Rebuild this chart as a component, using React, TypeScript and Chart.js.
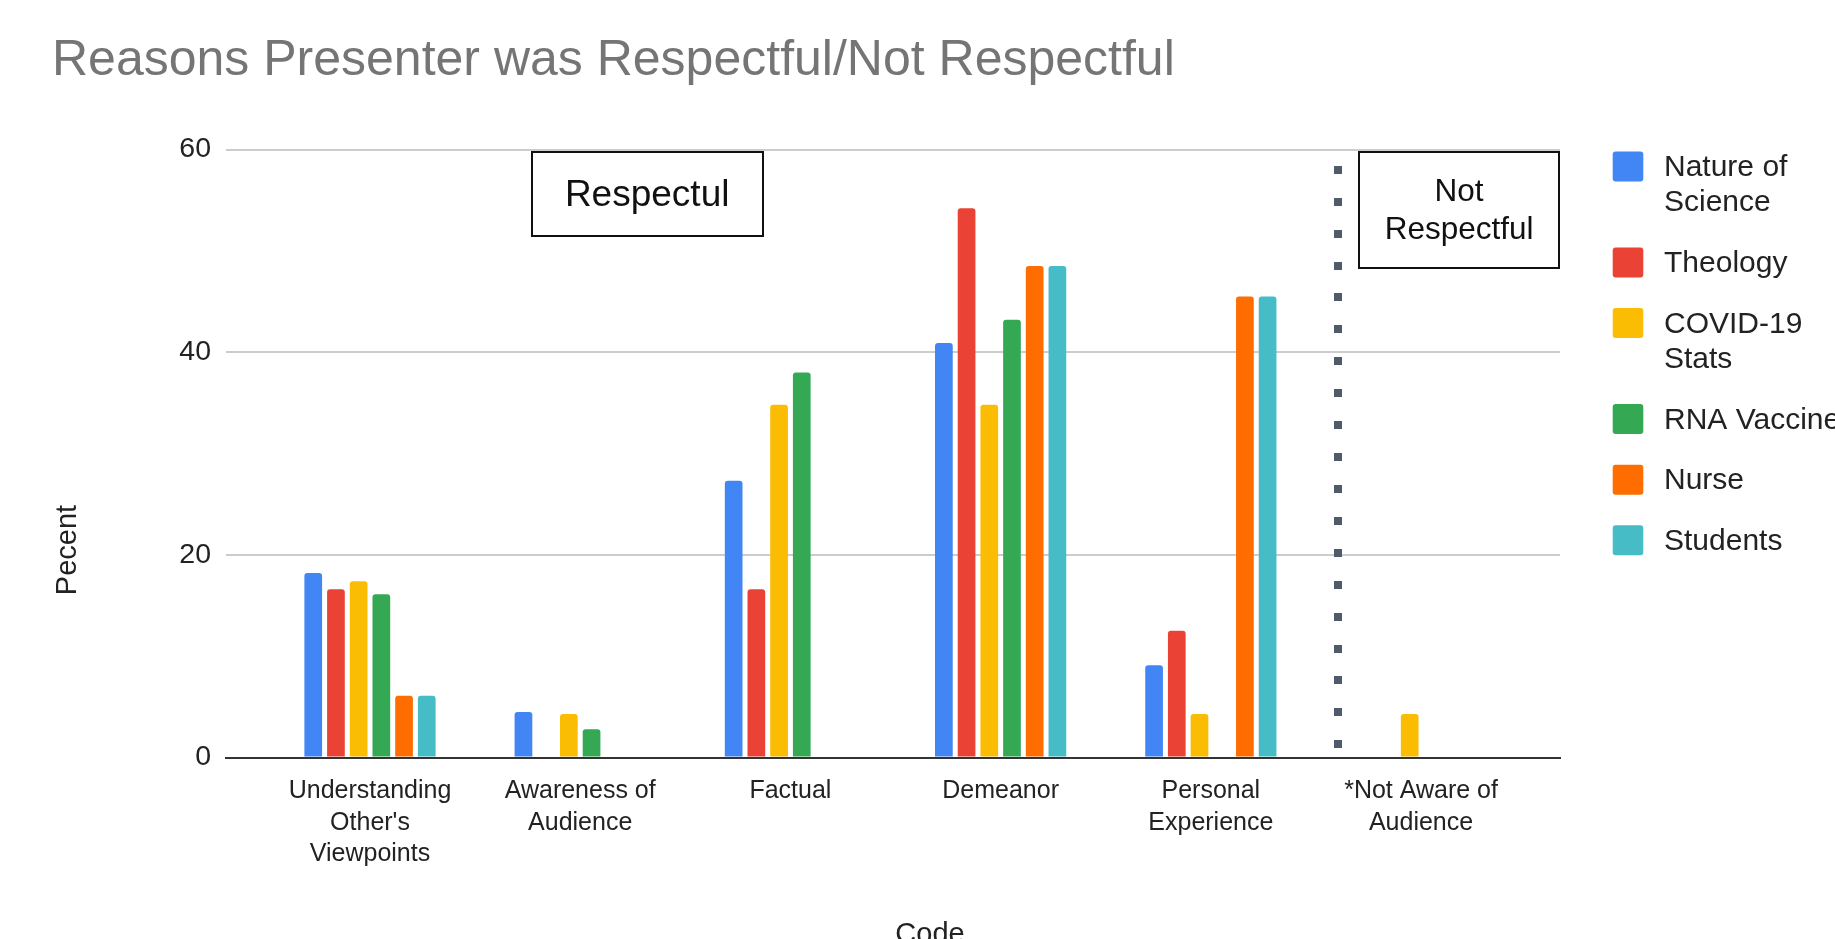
import React, { useEffect, useRef } from "react";
import { Chart, registerables } from "chart.js";

Chart.register(...registerables);

// ---------- data ----------
const categories: string[][] = [
  ["Understanding", "Other's", "Viewpoints"],
  ["Awareness of", "Audience"],
  ["Factual"],
  ["Demeanor"],
  ["Personal", "Experience"],
  ["*Not Aware of", "Audience"],
];
const categoryIndex = [0, 1, 2, 3, 4, 5];

const seriesNames = ["Nature of Science", "Theology", "COVID-19 Stats", "RNA Vaccine", "Nurse", "Students"];
const legendLines = [["Nature of", "Science"], ["Theology"], ["COVID-19", "Stats"], ["RNA Vaccine"], ["Nurse"], ["Students"]];
const seriesColors = ["#4285F4", "#EA4335", "#FBBC04", "#34A853", "#FF6D01", "#46BDC6"];

const natureOfScience = [18.2, 4.5, 27.3, 40.9, 9.1, null];
const theology = [16.6, null, 16.6, 54.2, 12.5, null];
const covidStats = [17.4, 4.3, 34.8, 34.8, 4.3, 4.3];
const rnaVaccine = [16.1, 2.8, 38.0, 43.2, null, null];
const nurse = [6.1, null, null, 48.5, 45.5, null];
const students = [6.1, null, null, 48.5, 45.5, null];
const seriesValues = [natureOfScience, theology, covidStats, rnaVaccine, nurse, students];

const yTicks = [0, 20, 40, 60];

const titleText = "Reasons Presenter was Respectful/Not Respectful";
const xTitle = "Code";
const yTitle = "Pecent";

// annotations (in data units)
const respectfulBox = { lines: ["Respectul"], x0: 0.769, x1: 1.868, y0: 59.8, y1: 51.5, size: 37 };
const notRespectfulBox = { lines: ["Not", "Respectful"], x0: 4.705, x1: 5.657, y0: 59.77, y1: 48.3, size: 31.5 };
const dividerX = 4.603;
const dividerTop = 58.0;
const dividerBottom = 1.3;
const dividerDots = 19;

const FONT = "'Liberation Sans', Arial, Helvetica, sans-serif";

const overlayPlugin = {
  id: "overlay",
  afterDatasetsDraw(chart: any) {
    const ctx = chart.ctx as CanvasRenderingContext2D;
    const xs = chart.scales.x;
    const ys = chart.scales.y;
    ctx.save();
    // dotted divider
    ctx.fillStyle = "#4f5a6e";
    const px = xs.getPixelForValue(dividerX);
    const top = ys.getPixelForValue(dividerTop);
    const bot = ys.getPixelForValue(dividerBottom);
    for (let i = 0; i < dividerDots; i++) {
      const cy = top + ((bot - top) * i) / (dividerDots - 1);
      ctx.fillRect(Math.round(px - 4), Math.round(cy - 4), 8, 8);
    }
    // boxes
    for (const b of [respectfulBox, notRespectfulBox]) {
      const x0 = xs.getPixelForValue(b.x0);
      const x1 = xs.getPixelForValue(b.x1);
      const y0 = ys.getPixelForValue(b.y0);
      const y1 = ys.getPixelForValue(b.y1);
      ctx.fillStyle = "#ffffff";
      ctx.fillRect(x0, y0, x1 - x0, y1 - y0);
      ctx.strokeStyle = "#111";
      ctx.lineWidth = 2;
      ctx.strokeRect(Math.round(x0), Math.round(y0), Math.round(x1 - x0), Math.round(y1 - y0));
      ctx.fillStyle = "#111";
      ctx.font = `${b.size}px ${FONT}`;
      ctx.textAlign = "center";
      ctx.textBaseline = "alphabetic";
      const cx = (x0 + x1) / 2;
      const cy = (y0 + y1) / 2 - 1;
      const gap = b.size * 1.22;
      const n = b.lines.length;
      b.lines.forEach((ln, i) => {
        const by = cy - ((n - 1) / 2) * gap + i * gap + 0.358 * b.size;
        ctx.fillText(ln, cx, by);
      });
    }
    ctx.restore();
  },
  afterDraw(chart: any) {
    const ctx = chart.ctx as CanvasRenderingContext2D;
    ctx.save();
    // title
    ctx.fillStyle = "#757575";
    ctx.font = `50px ${FONT}`;
    ctx.textAlign = "left";
    ctx.textBaseline = "alphabetic";
    ctx.fillText(titleText, 52, 74.5);
    // x axis title
    ctx.fillStyle = "#222";
    ctx.font = `29px ${FONT}`;
    ctx.textAlign = "center";
    ctx.fillText(xTitle, 930, 942.5);
    // y axis title
    ctx.save();
    ctx.translate(76, 550);
    ctx.rotate(-Math.PI / 2);
    ctx.fillText(yTitle, 0, 0);
    ctx.restore();
    // legend
    let y = 166.5;
    chart.data.datasets.forEach((ds: any, i: number) => {
      ctx.fillStyle = ds.backgroundColor;
      ctx.beginPath();
      (ctx as any).roundRect(1612.7, y - 15, 30.6, 30, 3);
      ctx.fill();
      ctx.fillStyle = "#222";
      ctx.font = `30px ${FONT}`;
      ctx.textAlign = "left";
      const lines = legendLines[i];
      lines.forEach((ln, k) => ctx.fillText(ln, 1664, y + 9.5 + k * 35.4));
      y += 60.6 + (lines.length - 1) * 35.4;
    });
    ctx.restore();
  },
};

export default function App() {
  const ref = useRef<HTMLCanvasElement | null>(null);
  useEffect(() => {
    if (!ref.current) return;
    const chart = new Chart(ref.current, {
      type: "bar",
      data: {
        datasets: seriesNames.map((name, i) => ({
          label: name,
          data: categoryIndex.map((x, j) => ({ x, y: seriesValues[i][j] })),
          backgroundColor: seriesColors[i],
          borderRadius: { topLeft: 3, topRight: 3, bottomLeft: 0, bottomRight: 0 },
          borderSkipped: false,
          categoryPercentage: 0.648,
          barPercentage: 0.78,
        })),
      } as any,
      options: {
        animation: false,
        responsive: false,
        maintainAspectRatio: false,
        devicePixelRatio: 1,
        layout: { padding: { left: 52, right: 275, top: 149.5, bottom: 0 } },
        plugins: {
          legend: { display: false },
          title: { display: false },
          tooltip: { enabled: false },
        },
        scales: {
          x: {
            type: "linear",
            min: -0.685,
            max: 5.661,
            offset: false,
            afterBuildTicks: (axis: any) => {
              axis.ticks = categoryIndex.map((v) => ({ value: v }));
            },
            afterFit: (axis: any) => {
              axis.height = 181.5;
            },
            grid: { display: false, offset: false },
            border: { display: true, color: "#333", width: 2 },
            ticks: {
              autoSkip: false,
              maxRotation: 0,
              minRotation: 0,
              padding: 10,
              color: "#222",
              font: { family: FONT, size: 25, lineHeight: 1.26 },
              callback: (v: any) => categories[Math.round(Number(v))] ?? "",
            },
          },
          y: {
            min: 0,
            max: 60,
            afterBuildTicks: (axis: any) => {
              axis.ticks = yTicks.map((v) => ({ value: v }));
            },
            afterFit: (axis: any) => {
              axis.width = 174;
            },
            grid: {
              color: (c: any) => (c.tick && c.tick.value === 0 ? "#333" : "#cccccc"),
              lineWidth: 2,
              drawTicks: false,
            },
            border: { display: false },
            ticks: { padding: 15, color: "#222", font: { family: FONT, size: 28.5 } },
          },
        },
      } as any,
      plugins: [overlayPlugin],
    });
    return () => chart.destroy();
  }, []);
  return (
    <div style={{ position: "fixed", left: 0, top: 0, width: 1835, height: 939, background: "#fff" }}>
      <canvas ref={ref} width={1835} height={939} style={{ display: "block", width: 1835, height: 939 }} />
    </div>
  );
}
